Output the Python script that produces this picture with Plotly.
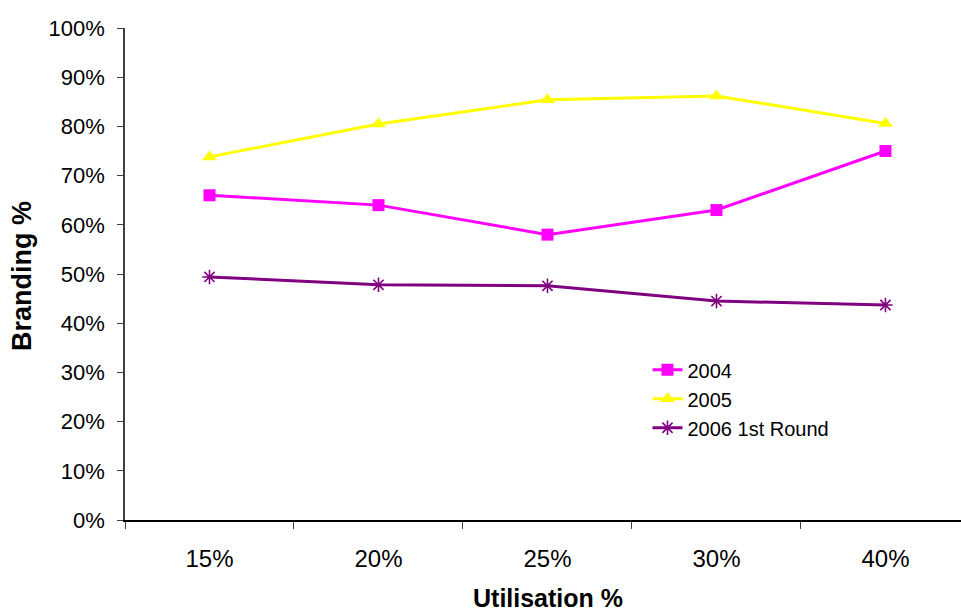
import plotly.graph_objects as go

# Utilisation levels on the x axis
utilisation = ["15%", "20%", "25%", "30%", "40%"]

# Branding share by survey round (fractions)
branding_2004 = [0.66, 0.64, 0.58, 0.63, 0.75]
branding_2005 = [0.738, 0.805, 0.854, 0.862, 0.806]
branding_2006 = [0.494, 0.478, 0.476, 0.445, 0.437]

series_names = ["2004", "2005", "2006 1st Round"]

FONT = "Liberation Sans, Arial, sans-serif"

fig = go.Figure()

fig.add_trace(go.Scatter(
    x=utilisation, y=branding_2004, name=series_names[0],
    mode="lines+markers",
    line=dict(color="#FF00FF", width=3),
    marker=dict(symbol="square", size=12, color="#FF00FF"),
))
fig.add_trace(go.Scatter(
    x=utilisation, y=branding_2005, name=series_names[1],
    mode="lines+markers",
    line=dict(color="#FFFF00", width=3),
    marker=dict(symbol="triangle-up", size=13, color="#FFFF00"),
))
fig.add_trace(go.Scatter(
    x=utilisation, y=branding_2006, name=series_names[2],
    mode="lines+markers",
    line=dict(color="#800080", width=3),
    marker=dict(symbol="asterisk-open", size=12, color="#800080",
                line=dict(color="#800080", width=1.6)),
))

plot_w = 961 - 125
plot_h = 520 - 28

fig.update_layout(
    width=961, height=612,
    margin=dict(l=125, r=0, t=28, b=92),
    paper_bgcolor="white",
    plot_bgcolor="white",
    font=dict(family=FONT, color="black"),
    showlegend=True,
    legend=dict(
        x=0.625, y=0.345, xanchor="left", yanchor="top",
        font=dict(size=20, family=FONT, color="black"),
        bgcolor="rgba(0,0,0,0)",
    ),
    xaxis=dict(
        type="category",
        range=[-0.5, 4.447],
        tickson="boundaries",
        ticks="outside", ticklen=7, tickcolor="#404040", tickwidth=1,
        showline=True, linecolor="black", linewidth=1.5,
        showgrid=False, zeroline=False,
        tickfont=dict(size=24, family=FONT),
        ticklabelstandoff=16,
    ),
    yaxis=dict(
        range=[0, 1],
        tickmode="linear", tick0=0, dtick=0.1,
        tickformat=".0%",
        ticks="outside", ticklen=6, tickcolor="#404040", tickwidth=1,
        showline=True, linecolor="#404040", linewidth=1.5,
        showgrid=False, zeroline=False,
        tickfont=dict(size=22, family=FONT),
        ticklabelstandoff=8,
    ),
    annotations=[
        # y-axis title, positioned in pixels relative to the plot area
        dict(text="<b>Branding %</b>",
             x=(22 - 125) / plot_w, y=(520 - 276) / plot_h,
             xref="paper", yref="paper",
             showarrow=False, textangle=-90, font=dict(size=27, family=FONT),
             xanchor="center", yanchor="middle"),
        # x-axis title
        dict(text="<b>Utilisation %</b>",
             x=(548 - 125) / plot_w, y=(520 - 598) / plot_h,
             xref="paper", yref="paper",
             showarrow=False, font=dict(size=25, family=FONT),
             xanchor="center", yanchor="middle"),
    ],
)

fig.write_html("out.html")
